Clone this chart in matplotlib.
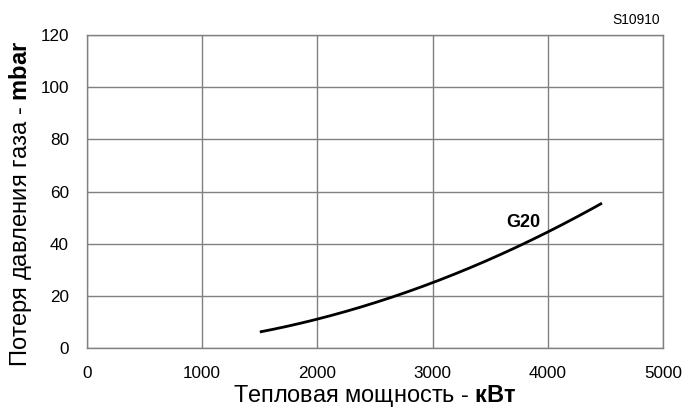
import matplotlib
matplotlib.use("Agg")
import matplotlib.pyplot as plt
import numpy as np

plt.rcParams['font.family'] = ['Liberation Sans', 'DejaVu Sans']
plt.rcParams['mathtext.fontset'] = 'custom'
plt.rcParams['mathtext.rm'] = 'Liberation Sans'
plt.rcParams['mathtext.bf'] = 'Liberation Sans:bold'

# curve data
power_kw = [1500, 2000, 2500, 3000, 3500, 4000, 4470]
pressure_mbar = [6.2, 11.4, 16.6, 25.4, 34.0, 45.0, 55.2]

x_ticks = [0, 1000, 2000, 3000, 4000, 5000]
y_ticks = [0, 20, 40, 60, 80, 100, 120]

fig = plt.figure(figsize=(6.91, 4.12), dpi=100)
ax = fig.add_axes([0.1259, 0.1553, 0.8336, 0.7597])

# smooth the curve between the read points
xs = np.linspace(power_kw[0], power_kw[-1], 200)
coef = np.polyfit(power_kw, pressure_mbar, 2)
ax.plot(xs, np.polyval(coef, xs), color='black', lw=2.0, solid_capstyle='butt')

ax.text(3790, 48.1, 'G20', fontsize=13, fontweight='bold', ha='center', va='center')

ax.set_xlim(0, 5000)
ax.set_ylim(0, 120)
ax.set_xticks(x_ticks)
ax.set_yticks(y_ticks)
ax.grid(True, color='#808080', lw=1.0)
ax.set_axisbelow(True)
for s in ax.spines.values():
    s.set_color('#808080')
    s.set_linewidth(1.0)
ax.tick_params(length=0, labelsize=12.3, colors='black')
ax.tick_params(axis='x', pad=13)
ax.tick_params(axis='y', pad=13)

ax.set_xlabel('Тепловая мощность - $\\bf{кВт}$', fontsize=16.9, va='center')
ax.set_ylabel('Потеря давления газа - $\\bf{mbar}$', fontsize=17.1, va='center')
ax.xaxis.set_label_coords(0.5, -0.153)
ax.yaxis.set_label_coords(-0.1146, 0.4617)

fig.text(0.955, 0.951, 'S10910', fontsize=10, ha='right', va='center')

fig.savefig('out.png', dpi=100)
